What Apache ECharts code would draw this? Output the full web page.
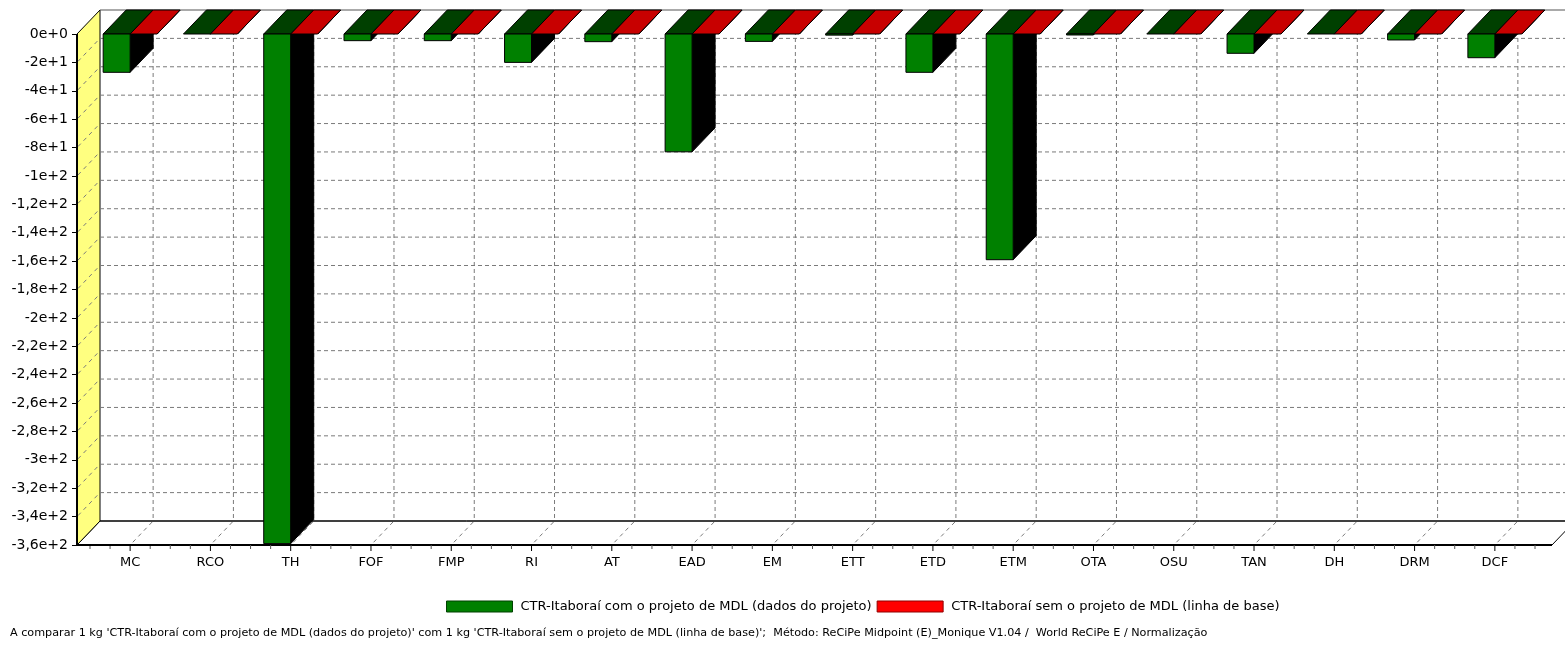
<!DOCTYPE html>
<html>
<head>
<meta charset="utf-8">
<script src="https://cdn.jsdelivr.net/npm/echarts@6/dist/echarts.min.js"></script>
<style>
  html, body { margin: 0; padding: 0; background: #ffffff; }
  #chart { width: 1565px; height: 649px; }
</style>
</head>
<body>
<div id="chart"></div>
<script>
// Impact categories (ReCiPe Midpoint, normalised)
const categories = ['MC', 'RCO', 'TH', 'FOF', 'FMP', 'RI', 'AT', 'EAD', 'EM', 'ETT',
                    'ETD', 'ETM', 'OTA', 'OSU', 'TAN', 'DH', 'DRM', 'DCF'];

// CTR-Itaboraí com o projeto de MDL (dados do projeto)
const withProject = [-27, -0.2, -359, -4.7, -4.7, -20, -5.4, -83, -5.2, -0.8,
                     -27, -159, -0.7, -0.1, -13.6, -0.1, -4.2, -16.7];

// CTR-Itaboraí sem o projeto de MDL (linha de base)
const baseline = [0, 0, 0, 0, 0, 0, 0, 0, 0, 0, 0, 0, 0, 0, 0, 0, 0, 0];

// Value axis ticks and their labels
const yTicks = [0, -20, -40, -60, -80, -100, -120, -140, -160, -180, -200,
                -220, -240, -260, -280, -300, -320, -340, -360];
const yTickLabels = ['0e+0', '-2e+1', '-4e+1', '-6e+1', '-8e+1', '-1e+2', '-1,2e+2',
                     '-1,4e+2', '-1,6e+2', '-1,8e+2', '-2e+2', '-2,2e+2', '-2,4e+2',
                     '-2,6e+2', '-2,8e+2', '-3e+2', '-3,2e+2', '-3,4e+2', '-3,6e+2'];

const seriesNames = [
  'CTR-Itaboraí com o projeto de MDL (dados do projeto)',
  'CTR-Itaboraí sem o projeto de MDL (linha de base)'
];

const footerText = "A comparar 1 kg 'CTR-Itaboraí com o projeto de MDL (dados do projeto)' com 1 kg 'CTR-Itaboraí sem o projeto de MDL (linha de base)';  Método: ReCiPe Midpoint (E)_Monique V1.04 /  World ReCiPe E / Normalização";

// Pseudo-3D look
const DX = 23, DY = -24;          // depth offset of the back plane
const EXT_L = 13, EXT_R = 17;     // frame reaches a little past the category bands
const BAR_FRAC = 0.336;           // bar width as a share of a category band
const FONT = '"DejaVu Sans", sans-serif';

const faces = [
  { front: '#008000', top: '#004000', side: '#000000' },
  { front: '#ff0000', top: '#c80000', side: '#000000' }
];

function poly(points, fill, stroke, lw) {
  return { type: 'polygon', shape: { points: points },
           style: { fill: fill, stroke: stroke || null, lineWidth: lw || 1 } };
}
function line(x1, y1, x2, y2, stroke, lw, dash) {
  return { type: 'line', shape: { x1: x1, y1: y1, x2: x2, y2: y2 },
           style: { stroke: stroke, lineWidth: lw || 1, lineDash: dash || null } };
}

// Walls, floor and dashed grid of the 3D box
function renderFrame(params, api) {
  const cs = params.coordSys;
  const xL = cs.x - EXT_L, xR = cs.x + cs.width + EXT_R;
  const yT = api.coord([0, yTicks[0]])[1];
  const yB = api.coord([0, yTicks[yTicks.length - 1]])[1];
  const kids = [];
  const grey = '#7a7a7a', dash = [4, 3];
  // back wall
  kids.push(poly([[xL + DX, yT + DY], [xR + DX, yT + DY], [xR + DX, yB + DY], [xL + DX, yB + DY]], '#ffffff', null));
  // floor
  kids.push(poly([[xL, yB], [xL + DX, yB + DY], [xR + DX, yB + DY], [xR, yB]], '#ffffff', '#000000', 1));
  // left wall
  kids.push(poly([[xL, yT], [xL + DX, yT + DY], [xL + DX, yB + DY], [xL, yB]], '#ffff80', '#000000', 1));
  // horizontal grid on the back wall and its diagonal on the left wall
  for (let i = 1; i < yTicks.length - 1; i++) {
    const y = api.coord([0, yTicks[i]])[1];
    kids.push(line(xL + DX, y + DY, xR + DX, y + DY, grey, 1, dash));
    kids.push(line(xL + 1, y - 1, xL + DX - 1, y + DY + 1, grey, 1, [4, 4]));
  }
  // vertical grid on the back wall and its diagonal on the floor
  for (let i = 0; i < categories.length; i++) {
    const x = api.coord([i, 0])[0];
    kids.push(line(x + DX, yT + DY, x + DX, yB + DY, grey, 1, dash));
    kids.push(line(x + DX - 1, yB + DY + 1, x + 1, yB - 1, grey, 1, [4, 4]));
  }
  // back edges
  kids.push(line(xL + DX, yT + DY, xR + DX, yT + DY, '#555555', 1));
  kids.push(line(xL + DX, yB + DY, xR + DX, yB + DY, '#000000', 1));
  return { type: 'group', children: kids };
}

// One pseudo-3D bar: right side, top, front
function makeBarRenderer(k) {
  return function (params, api) {
    const idx = api.value(0);
    const band = api.size([1, 0])[0];
    const w = band * BAR_FRAC;
    const base = api.coord([idx, 0]);
    const end = api.coord([idx, api.value(1)]);
    const x0 = k === 0 ? base[0] - w : base[0];
    const x1 = x0 + w;
    const yA = base[1], yE = end[1];
    const c = faces[k];
    const kids = [];
    kids.push(poly([[x1, yA], [x1 + DX, yA + DY], [x1 + DX, yE + DY], [x1, yE]], c.side, '#000000', 1));
    kids.push(poly([[x0, yA], [x1, yA], [x1 + DX, yA + DY], [x0 + DX, yA + DY]], c.top, '#000000', 1));
    if (Math.abs(yE - yA) > 0.5) {
      kids.push({ type: 'rect', shape: { x: x0, y: Math.min(yA, yE), width: w, height: Math.abs(yE - yA) },
                  style: { fill: c.front, stroke: '#000000', lineWidth: 1 } });
    }
    return { type: 'group', children: kids };
  };
}

// Front axis lines and the quarter-band tick marks on the category axis
function renderFront(params, api) {
  const cs = params.coordSys;
  const xL = cs.x - EXT_L, xR = cs.x + cs.width + EXT_R;
  const yT = api.coord([0, yTicks[0]])[1];
  const yB = api.coord([0, yTicks[yTicks.length - 1]])[1];
  const idx = api.value(0);
  const band = api.size([1, 0])[0];
  const cx = api.coord([idx, 0])[0];
  const kids = [];
  kids.push(line(cx, yB, cx, yB + 6, '#000000', 1));
  const offs = [-0.5, -0.25, 0.25];
  if (idx === categories.length - 1) offs.push(0.5);
  offs.forEach(function (o) {
    const x = cx + o * band;
    kids.push(line(x, yB, x, yB + 4, '#555555', 1));
  });
  if (params.dataIndex === 0) {
    kids.push(line(xL, yB, xR, yB, '#000000', 2));
    kids.push(line(xL, yT, xL, yB + 1, '#000000', 2));
  }
  return { type: 'group', children: kids };
}

const chart = echarts.init(document.getElementById('chart'), null, { renderer: 'canvas' });

chart.setOption({
  animation: false,
  backgroundColor: '#ffffff',
  grid: { left: 90, right: 30, top: 34, bottom: 104, containLabel: false },
  xAxis: {
    type: 'category',
    data: categories,
    axisLine: { show: false },
    axisTick: { show: false },
    splitLine: { show: false },
    axisLabel: { interval: 0, margin: 11, color: '#000000', fontFamily: FONT, fontSize: 13 }
  },
  yAxis: {
    type: 'value',
    min: yTicks[yTicks.length - 1],
    max: yTicks[0],
    interval: 20,
    offset: EXT_L,
    axisLine: { show: false },
    axisTick: { show: true, length: 5, lineStyle: { color: '#000000' } },
    splitLine: { show: false },
    axisLabel: {
      margin: 9, color: '#000000', fontFamily: FONT, fontSize: 14,
      formatter: function (v) {
        const i = yTicks.indexOf(Math.round(v));
        return i >= 0 ? yTickLabels[i] : '';
      }
    }
  },
  legend: {
    left: 446,
    top: 600,
    padding: 0,
    itemGap: 5,
    itemWidth: 66,
    itemHeight: 11,
    icon: 'rect',
    textStyle: { fontFamily: FONT, fontSize: 13, color: '#000000', padding: [0, 0, 0, 3] },
    data: [
      { name: seriesNames[0], itemStyle: { color: '#008000', borderColor: '#004000', borderWidth: 1 } },
      { name: seriesNames[1], itemStyle: { color: '#ff0000', borderColor: '#900000', borderWidth: 1 } }
    ]
  },
  graphic: [{
    type: 'text',
    left: 10,
    top: 628,
    style: { text: footerText, fill: '#000000', font: '11.2px "DejaVu Sans", sans-serif' }
  }],
  series: [
    {
      type: 'custom',
      name: 'frame',
      z: 1,
      silent: true,
      renderItem: renderFrame,
      data: [[0, 0]]
    },
    {
      type: 'custom',
      name: seriesNames[0],
      z: 2,
      itemStyle: { color: '#008000' },
      renderItem: makeBarRenderer(0),
      encode: { x: 0, y: 1 },
      data: withProject.map(function (v, i) { return [i, v]; })
    },
    {
      type: 'custom',
      name: seriesNames[1],
      z: 2,
      itemStyle: { color: '#ff0000' },
      renderItem: makeBarRenderer(1),
      encode: { x: 0, y: 1 },
      data: baseline.map(function (v, i) { return [i, v]; })
    },
    {
      type: 'custom',
      name: 'front',
      z: 3,
      silent: true,
      renderItem: renderFront,
      data: categories.map(function (c, i) { return [i, 0]; })
    }
  ]
});
</script>
</body>
</html>
